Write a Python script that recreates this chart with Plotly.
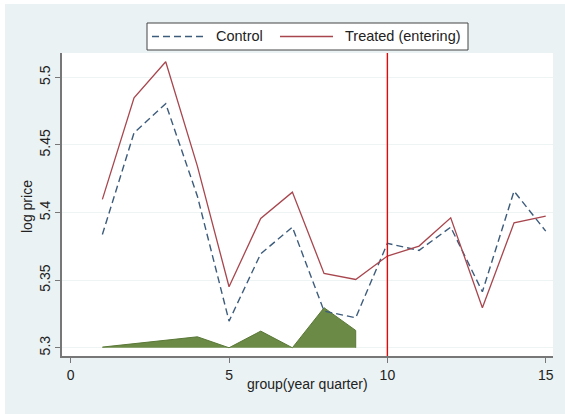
import plotly.graph_objects as go

# Quarter index and mean log prices per group
quarters = [1, 2, 3, 4, 5, 6, 7, 8, 9, 10, 11, 12, 13, 14, 15]
control = [5.3838, 5.4590, 5.4805, 5.4121, 5.3197, 5.3695, 5.3892, 5.3271,
           5.3222, 5.3772, 5.3720, 5.3892, 5.3414, 5.4158, 5.3863]
treated = [5.4097, 5.4849, 5.5115, 5.4343, 5.3451, 5.3956, 5.4151, 5.3550,
           5.3505, 5.3678, 5.3752, 5.3961, 5.3296, 5.3924, 5.3974]

# Shaded density band drawn over the pre-entry quarters
band_quarters = [1, 2, 3, 4, 5, 6, 7, 8, 9]
band_values = [5.3005, 5.3030, 5.3056, 5.3081, 5.3000, 5.3123, 5.3000, 5.3296, 5.3128]
band_base = 5.3

entry_quarter = 10
x_ticks = [0, 5, 10, 15]
y_ticks = [5.3, 5.35, 5.4, 5.45, 5.5]
y_tick_text = ["5.3", "5.35", "5.4", "5.45", "5.5"]
series_names = ["Control", "Treated (entering)"]

FONT = "Liberation Sans"
BG = "#eaf2f3"
CONTROL_COLOR = "#3d5c7c"
TREATED_COLOR = "#a8464e"
CONTROL_DASH = "7px,4px"

# plot-area geometry in pixels, used to place the legend box and titles
W, H = 565, 414
L, R, T, B = 62, 12, 53, 58
PW, PH = W - L - R, H - T - B


def px(x):
    return (x - L) / PW


def py(y):
    return (H - B - y) / PH


fig = go.Figure()

# baseline for the shaded band
fig.add_trace(go.Scatter(
    x=band_quarters, y=[band_base] * len(band_quarters), mode="lines",
    line=dict(width=0, color="rgba(0,0,0,0)"), showlegend=False, hoverinfo="skip"))
fig.add_trace(go.Scatter(
    x=band_quarters, y=band_values, mode="lines", fill="tonexty",
    fillcolor="#6b8a45", line=dict(color="#5a7838", width=1),
    showlegend=False))
fig.add_shape(type="line", x0=band_quarters[-1], x1=band_quarters[-1],
              y0=band_base, y1=band_values[-1], xref="x", yref="y",
              line=dict(color="#5a7838", width=1))

fig.add_trace(go.Scatter(
    x=quarters, y=control, mode="lines", name=series_names[0], showlegend=False,
    line=dict(color=CONTROL_COLOR, width=1.4, dash=CONTROL_DASH)))
fig.add_trace(go.Scatter(
    x=quarters, y=treated, mode="lines", name=series_names[1], showlegend=False,
    line=dict(color=TREATED_COLOR, width=1.3)))

# entry marker
fig.add_shape(type="line", x0=entry_quarter, x1=entry_quarter, y0=0, y1=1,
              xref="x", yref="paper", line=dict(color="#e00a0a", width=1.4))

# thin white border around the graph region (top and left)
fig.add_shape(type="rect", xref="paper", yref="paper",
              x0=px(-20), x1=px(5), y0=py(H + 20), y1=py(-20),
              fillcolor="white", line=dict(width=0), layer="above")
fig.add_shape(type="rect", xref="paper", yref="paper",
              x0=px(-20), x1=px(W + 20), y0=py(4), y1=py(-20),
              fillcolor="white", line=dict(width=0), layer="above")

# legend box with keys
fig.add_shape(type="rect", xref="paper", yref="paper",
              x0=px(147), x1=px(468), y0=py(50), y1=py(23),
              fillcolor="white", line=dict(color="#444444", width=1), layer="above")
fig.add_shape(type="line", xref="paper", yref="paper",
              x0=px(152), x1=px(207), y0=py(36.5), y1=py(36.5),
              line=dict(color=CONTROL_COLOR, width=1.3, dash=CONTROL_DASH), layer="above")
fig.add_shape(type="line", xref="paper", yref="paper",
              x0=px(280), x1=px(333), y0=py(36.5), y1=py(36.5),
              line=dict(color=TREATED_COLOR, width=1.3), layer="above")
fig.add_annotation(xref="paper", yref="paper", x=px(214), y=py(36.5),
                   text=series_names[0], showarrow=False, xanchor="left", yanchor="middle",
                   font=dict(size=14.5))
fig.add_annotation(xref="paper", yref="paper", x=px(343), y=py(36.5),
                   text=series_names[1], showarrow=False, xanchor="left", yanchor="middle",
                   font=dict(size=14.5))

# axis titles
fig.add_annotation(xref="paper", yref="paper", x=px(27), y=py(207),
                   text="log price", showarrow=False, textangle=-90,
                   xanchor="center", yanchor="middle", font=dict(size=14))
fig.add_annotation(xref="paper", yref="paper", x=0.5, y=py(384),
                   text="group(year quarter)", showarrow=False,
                   xanchor="center", yanchor="middle", font=dict(size=14))

fig.update_layout(
    width=W, height=H,
    margin=dict(l=L, r=R, t=T, b=B),
    paper_bgcolor=BG, plot_bgcolor="white",
    font=dict(family=FONT, size=14, color="#222222"),
    showlegend=False,
    xaxis=dict(range=[-0.275, 15.23], tickvals=x_ticks, showgrid=False,
               zeroline=False, showline=True, linecolor="#777777", linewidth=1.5,
               ticks="outside", ticklen=5, tickcolor="#777777", tickwidth=1,
               tickfont=dict(size=14)),
    yaxis=dict(range=[5.2939, 5.518], tickvals=y_ticks, ticktext=y_tick_text,
               tickangle=-90, showgrid=True, gridcolor="#eef3f4", gridwidth=1,
               zeroline=False, showline=True, linecolor="#777777", linewidth=1.5,
               ticks="outside", ticklen=5, tickcolor="#777777", tickwidth=1,
               tickfont=dict(size=14)),
)

fig.write_html("out.html")
